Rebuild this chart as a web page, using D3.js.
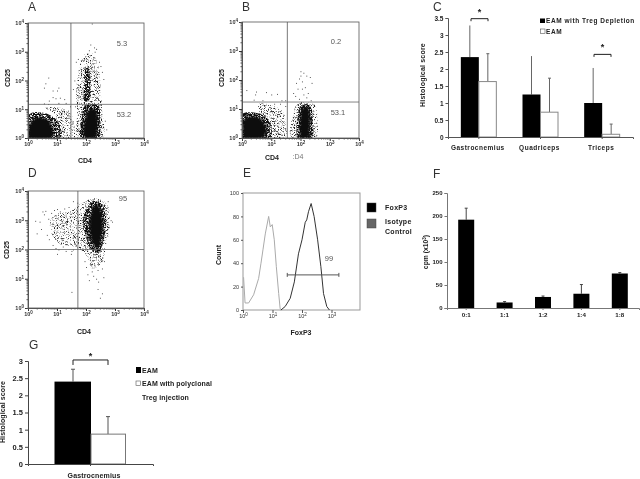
<!DOCTYPE html>
<html><head><meta charset="utf-8">
<script src="https://cdn.jsdelivr.net/npm/d3@7"></script>
<style>
html,body{margin:0;padding:0;background:#fff}
text{font-family:"Liberation Sans",Arial,sans-serif}
.b{font-weight:bold;fill:#222}
</style></head><body><svg id="c" width="640" height="479"></svg>
<script>
// Flow panels: decade exponents [log10 CD4, log10 CD25]
const aCore=[[[0,.1],[.1,.55],[.35,.72],[.6,.66],[.8,.45],[.88,.2],[.8,0],[0,0]],[[1.92,.1],[1.98,.7],[2.12,1.0],[2.32,1.0],[2.4,.7],[2.36,.1],[2.28,0],[1.98,0]]];
const aMid=[[[0,0],[0,.8],[.4,.9],[.85,.75],[1.1,.45],[1.15,.1],[1.1,0]],[[1.84,0],[1.86,.8],[1.98,1.15],[2.42,1.15],[2.48,.6],[2.45,0]],[[1.95,1.3],[1.94,1.9],[2.0,2.45],[2.1,2.45],[2.16,1.9],[2.1,1.3]]];
const aLow=[[[.9,.85],[.6,1.05],[1.1,1.05],[1.5,.8],[1.6,.3],[1.6,0],[1.1,0]],[[1.72,0],[1.7,.9],[1.66,1.5],[1.74,2.3],[1.9,2.85],[2.2,2.95],[2.45,2.4],[2.5,1.7],[2.55,1],[2.58,0]]];
const aDots=[[.55,1.75],[.6,1.9],[.7,2.1],[.85,1.65],[1.05,1.75],[1.0,1.65],[.72,1.3],[.85,1.42],[.95,1.38],[1.1,1.4],[1.25,1.35],[1.3,1.22],[1.05,1.22],[.55,1.2],[.7,1.18],[1.45,1.1],[1.38,.95],[1.4,.75],[1.5,.6],[1.2,.95],[1.3,.7],[2.28,3.15],[2.3,3.0],[2.1,3.05],[2.15,3.25],[1.65,2.65],[1.72,2.75],[2.45,2.65],[2.5,2.5],[2.55,2.3],[2.6,2.05],[2.65,.6],[2.7,.3],[2.2,3.98],[2.35,3.1],[1.58,.4],[1.62,1.1],[1.55,1.7],[1.6,2.0]];
const bCore=[[[.02,.05],[.05,.6],[.3,.75],[.62,.68],[.8,.42],[.8,.1],[.72,0],[0,0]],[[1.98,.05],[2.0,.75],[2.07,1.03],[2.25,1.05],[2.32,.7],[2.27,.05],[2.2,0],[2,0]]];
const bMid=[[[0,0],[0,.82],[.4,.88],[.8,.75],[1.0,.4],[.95,0]],[[1.92,0],[1.92,.85],[2.02,1.12],[2.33,1.12],[2.42,.6],[2.38,0]]];
const bLow=[[[0.6,.9],[.6,1.2],[.95,1.15],[1.4,.9],[1.5,.4],[1.5,0],[.9,0]],[[1.68,0],[1.78,.9],[1.9,1.2],[2.48,1.15],[2.58,.6],[2.52,0]]];
const bDots=[[.15,1.65],[.45,1.5],[.48,1.6],[.82,1.58],[1.0,1.5],[1.2,1.52],[.4,1.32],[.7,1.3],[1.35,1.3],[1.48,1.3],[.55,1.1],[1.1,1.18],[1.3,1.18],[1.48,1.1],[2.0,2.3],[1.95,2.05],[2.05,1.95],[2.2,2.15],[2.32,2.1],[1.85,1.9],[1.9,1.7],[2.05,1.7],[2.15,1.75],[2.25,1.55],[2.1,1.5],[1.82,1.45],[1.95,1.35],[2.2,1.4],[2.35,1.3],[2.38,1.9],[1.75,1.55],[2.0,2.15],[2.1,2.25]];
const dCore=[[[2.2,2.3],[2.12,2.8],[2.2,3.3],[2.35,3.58],[2.52,3.3],[2.58,2.8],[2.5,2.3],[2.37,2.02]]];
const dMid=[[[1.98,2.5],[1.88,2.9],[1.98,3.3],[2.25,3.65],[2.58,3.5],[2.7,2.9],[2.58,2.2],[2.45,1.9],[2.2,1.95]]];
const dLow=[[[.95,2.3],[.75,2.9],[.95,3.2],[1.45,3.3],[1.8,3.55],[2.3,3.75],[2.72,3.55],[2.82,2.9],[2.68,2.05],[2.55,1.55],[2.2,1.35],[2.05,1.75],[1.6,2.1],[1.2,2.15]]];
const dDots=[[.25,2.98],[.4,2.95],[.3,2.55],[.45,2.7],[.5,3.3],[.55,3.2],[.6,3.32],[.65,2.5],[.7,3.05],[.72,2.35],[.8,3.25],[.85,2.15],[.9,3.35],[.95,2.05],[1.0,3.38],[1.1,3.3],[1.05,2.0],[1.2,2.1],[1.25,3.4],[1.4,3.45],[1.5,1.95],[1.55,3.65],[1.7,3.6],[1.3,1.95],[1.55,2.0],[1.45,3.3],[1.0,1.85],[1.48,1.85],[1.5,.55],[2.2,1.25],[2.25,1.1],[2.35,1.0],[2.4,1.3],[2.05,1.15],[2.0,1.4],[2.15,1.5],[2.55,1.35],[2.1,.95],[2.4,.65],[2.42,.9],[2.55,.5],[2.6,1.05],[2.48,.35],[2.62,1.6],[2.85,3.0],[2.9,2.95],[2.75,3.65],[2.3,1.45],[2.5,1.65],[1.95,1.6]];
// Histogram E: [decade exponent, count]
const isoCurve=[[.02,28],[.07,6],[.19,6],[.36,13],[.53,27],[.61,40],[.68,52],[.755,65],[.87,80],[.925,71],[.99,73],[1.06,60],[1.13,37],[1.21,14],[1.26,1],[1.32,0]];
const foxCurve=[[1.285,0],[1.43,3],[1.6,10],[1.74,24],[1.88,48],[2.0,60],[2.11,75],[2.16,77],[2.22,84],[2.31,91],[2.41,80],[2.53,60],[2.64,37],[2.73,14],[2.84,3],[2.93,0]];
const gateE=[1.5,3.25,30];
// Bars
const cCats=["Gastrocnemius","Quadriceps","Triceps"];
const cDepl=[2.35,1.25,1.0], cDeplTop=[3.28,2.38,2.03];
const cEam=[1.63,0.73,0.08], cEamTop=[2.45,1.73,0.38];
const cTicks=[0,.5,1,1.5,2,2.5,3,3.5];
const fCats=["0:1","1:1","1:2","1:4","1:8"];
const fVals=[192,12,24,31,75], fTop=[217,14,26,51,77];
const fTicks=[0,50,100,150,200,250];
const gVals=[2.4,0.87], gTop=[2.76,1.38];
const gTicks=[0,.5,1,1.5,2,2.5,3];

const svg=d3.select("#c");
const defs=svg.append("defs");
defs.append("filter").attr("id","soft").attr("filterUnits","userSpaceOnUse").attr("x",0).attr("y",0).attr("width",640).attr("height",479)
 .append("feGaussianBlur").attr("stdDeviation",.38);
defs.append("filter").attr("id","coreBlur").attr("filterUnits","userSpaceOnUse").attr("x",0).attr("y",0).attr("width",640).attr("height",479)
 .append("feGaussianBlur").attr("stdDeviation",.9);
function speck(id,k,c,seed){
 const f=defs.append("filter").attr("id",id).attr("filterUnits","userSpaceOnUse").attr("x",0).attr("y",0).attr("width",640).attr("height",479).attr("color-interpolation-filters","sRGB");
 f.append("feTurbulence").attr("type","fractalNoise").attr("baseFrequency",1.3).attr("numOctaves",1).attr("seed",seed).attr("result","n");
 f.append("feColorMatrix").attr("in","n").attr("type","matrix").attr("values",`0 0 0 0 0 0 0 0 0 0 0 0 0 0 0 ${k} 0 0 0 ${c}`).attr("result","m");
 f.append("feComposite").attr("in","SourceGraphic").attr("in2","m").attr("operator","in");
}
speck("spMid",6,-2.25,4); speck("spLow",5,-2.5,9);
const root=svg.append("g").attr("filter","url(#soft)");

function letter(t,x,y){root.append("text").attr("x",x).attr("y",y).attr("font-size",12).attr("fill","#333").text(t);}
function lab(t,x,y,o={}){
 const e=root.append("text").attr("x",x).attr("y",y).attr("font-size",o.size||7).attr("text-anchor",o.anchor||"middle")
  .attr("class",o.plain?null:"b").attr("letter-spacing",o.ls||0);
 if(o.plain)e.attr("fill",o.fill||"#555");
 if(o.rot)e.attr("transform",`rotate(-90 ${x} ${y})`);
 e.text(t);return e;
}
function powerLabels(sel){
 sel.selectAll("text").each(function(d){
  const t=d3.select(this).text("");
  t.append("tspan").text("10");
  t.append("tspan").attr("dy",-2).attr("font-size",4.5).text(Math.round(Math.log10(d)));
 });
}
function logAxes(g,x,y){
 const minor=[];for(let e=1;e<1e4;e*=10)for(let m=2;m<10;m++)minor.push(e*m);
 const ax=g.append("g").attr("transform",`translate(0,${y.range()[0]})`).call(d3.axisBottom(x).tickValues([1,10,100,1000,1e4]).tickSize(3).tickPadding(1));
 const ay=g.append("g").attr("transform",`translate(${x.range()[0]},0)`).call(d3.axisLeft(y).tickValues([1,10,100,1000,1e4]).tickSize(3).tickPadding(1));
 [ax,ay].forEach(a=>{a.selectAll("text").attr("font-size",5.5).attr("fill","#333").attr("font-family","Liberation Sans").attr("font-weight","bold");powerLabels(a);a.selectAll("line,path").attr("stroke","#333");});
 g.append("g").attr("transform",`translate(0,${y.range()[0]})`).call(d3.axisBottom(x).tickValues(minor).tickSize(1.5).tickFormat("")).selectAll("line,path").attr("stroke","#555");
 g.append("g").attr("transform",`translate(${x.range()[0]},0)`).call(d3.axisLeft(y).tickValues(minor).tickSize(1.5).tickFormat("")).selectAll("line,path").attr("stroke","#555");
}
function flow(c){
 const x=d3.scaleLog().domain([1,1e4]).range(c.xr), y=d3.scaleLog().domain([1,1e4]).range(c.yr);
 const g=root.append("g");
 const line=d3.line().x(d=>x(10**d[0])).y(d=>y(10**d[1])).curve(d3.curveCatmullRomClosed);
 g.append("g").attr("filter","url(#spLow)").selectAll("path").data(c.low).join("path").attr("d",line).attr("fill","#222");
 g.append("g").attr("filter","url(#spMid)").selectAll("path").data(c.mid).join("path").attr("d",line).attr("fill","#111");
 g.append("g").attr("filter","url(#coreBlur)").selectAll("path").data(c.core).join("path").attr("d",line).attr("fill","#0a0a0a");
 g.append("g").selectAll("rect").data(c.dots).join("rect").attr("x",d=>x(10**d[0])).attr("y",d=>y(10**d[1])).attr("width",.9).attr("height",.9).attr("fill","#333");
 // cover blur spill outside the plot frame
 g.append("rect").attr("x",c.xr[0]-6).attr("y",c.yr[0]).attr("width",c.xr[1]-c.xr[0]+12).attr("height",5).attr("fill","#fff");
 g.append("rect").attr("x",c.xr[0]-6).attr("y",c.yr[1]).attr("width",6).attr("height",c.yr[0]-c.yr[1]+5).attr("fill","#fff");
 g.append("rect").attr("x",c.xr[0]).attr("y",c.yr[1]).attr("width",c.xr[1]-c.xr[0]).attr("height",c.yr[0]-c.yr[1]).attr("fill","none").attr("stroke","#555").attr("stroke-width",.8);
 g.append("line").attr("x1",x(c.gx)).attr("x2",x(c.gx)).attr("y1",c.yr[0]).attr("y2",c.yr[1]).attr("stroke","#555").attr("stroke-width",.8);
 g.append("line").attr("x1",c.xr[0]).attr("x2",c.xr[1]).attr("y1",y(c.gy)).attr("y2",y(c.gy)).attr("stroke","#666").attr("stroke-width",.8);
 logAxes(g,x,y);
}
flow({xr:[28,144],yr:[138,23],gx:10**1.48,gy:10**1.17,core:aCore,mid:aMid,low:aLow,dots:aDots});
flow({xr:[242,359],yr:[138,22],gx:10**1.55,gy:10**1.24,core:bCore,mid:bMid,low:bLow,dots:bDots});
flow({xr:[28,144],yr:[308,191],gx:10**1.72,gy:10**2.0,core:dCore,mid:dMid,low:dLow,dots:dDots});

// texts of flow panels
letter("A",28,11);letter("B",242,11);letter("C",433,11);letter("D",28,177);letter("E",243,177);letter("F",433,178);letter("G",29,349);
lab("CD25",10,78,{rot:1});lab("CD4",85,163);
lab("CD25",224,78,{rot:1});lab("CD4",272,160);lab(":D4",298,159,{plain:1,fill:"#777"});
lab("CD25",9,250,{rot:1});lab("CD4",84,334);
lab("5.3",122,46,{plain:1,size:7.5});lab("53.2",124,117,{plain:1,size:7.5});
lab("0.2",336,44,{plain:1,size:7.5});lab("53.1",338,115,{plain:1,size:7.5});
lab("95",123,201,{plain:1,size:7.5});lab("99",329,261,{plain:1,size:7.5});

// Panel E
{
 const x=d3.scaleLog().domain([1,1e4]).range([243,361]), y=d3.scaleLinear().domain([0,100]).range([310,193]);
 const g=root.append("g");
 const line=d3.line().x(d=>x(10**d[0])).y(d=>y(d[1]));
 g.append("rect").attr("x",243).attr("y",193).attr("width",117).attr("height",117).attr("fill","none").attr("stroke","#999").attr("stroke-width",1);
 g.append("path").attr("d",line(isoCurve)).attr("fill","none").attr("stroke","#aaa").attr("stroke-width",1);
 g.append("path").attr("d",line(foxCurve)).attr("fill","none").attr("stroke","#333").attr("stroke-width",1);
 g.append("line").attr("x1",x(10**gateE[0])).attr("x2",x(10**gateE[1])).attr("y1",y(gateE[2])).attr("y2",y(gateE[2])).attr("stroke","#555");
 gateE.slice(0,2).forEach(v=>g.append("line").attr("x1",x(10**v)).attr("x2",x(10**v)).attr("y1",y(gateE[2])-2).attr("y2",y(gateE[2])+2).attr("stroke","#555"));
 const ax=g.append("g").attr("transform","translate(0,310)").call(d3.axisBottom(x).tickValues([1,10,100,1000]).tickSize(3).tickPadding(1));
 ax.selectAll("text").attr("font-size",5.5).attr("fill","#333");powerLabels(ax);ax.selectAll("line").attr("stroke","#555");ax.select("path").remove();
 const ay=g.append("g").attr("transform","translate(243,0)").call(d3.axisLeft(y).tickValues([0,20,40,60,80,100]).tickSize(2).tickPadding(2));
 ay.selectAll("text").attr("font-size",5.5).attr("fill","#333");ay.selectAll("line").attr("stroke","#555");ay.select("path").remove();
 lab("Count",221,255,{rot:1});lab("FoxP3",301,335);
 [["#000",203],["#666",219]].forEach(d=>g.append("rect").attr("x",367).attr("y",d[1]).attr("width",9).attr("height",9).attr("fill",d[0]).attr("stroke","#444").attr("stroke-width",.5));
 lab("FoxP3",385,210,{anchor:"start",ls:.3});lab("Isotype",385,224,{anchor:"start",ls:.3});lab("Control",385,234,{anchor:"start",ls:.3});
}
function barAxes(x,y,ticks,opt){
 const g=root.append("g");
 const [x0,x1]=x.range(),[y0]=y.range();
 const ay=g.append("g").attr("transform",`translate(${x0},0)`).call(d3.axisLeft(y).tickValues(ticks).tickSize(opt.ts||2.5).tickPadding(2).tickFormat(d=>d));
 const ax=g.append("g").attr("transform",`translate(0,${y0})`).call(d3.axisBottom(x).tickSize(2).tickFormat(""));
 ay.selectAll("text").attr("font-size",opt.size||6.5).attr("font-weight","bold").attr("fill","#222").attr("font-family","Liberation Sans");
 [ax,ay].forEach(a=>a.selectAll("line,path").attr("stroke",opt.axis||"#555"));
 return g;
}
function errs(g,xs,base,top,y,stroke,cap){
 base.forEach((v,i)=>{
  g.append("line").attr("x1",xs[i]).attr("x2",xs[i]).attr("y1",y(v)).attr("y2",y(top[i])).attr("stroke",stroke);
  g.append("line").attr("x1",xs[i]-cap).attr("x2",xs[i]+cap).attr("y1",y(top[i])).attr("y2",y(top[i])).attr("stroke",stroke);
 });
}
function bracket(x1,x2,yv,y,dy,sy){
 const p=d3.path();p.moveTo(x1,y(yv)+dy);p.lineTo(x1,y(yv));p.lineTo(x2,y(yv));p.lineTo(x2,y(yv)+dy);
 root.append("path").attr("d",p.toString()).attr("fill","none").attr("stroke","#222");
 root.append("text").attr("x",(x1+x2)/2).attr("y",y(yv)-sy).attr("text-anchor","middle").attr("class","b").attr("font-size",9).text("*");
}
// Panel C
{
 const x=d3.scaleBand().domain(cCats).range([448,633]), y=d3.scaleLinear().domain([0,3.5]).range([137,18]);
 const w=18, left=c=>x(c)+x.bandwidth()/2-w;
 const g=root.append("g");
 errs(g,cCats.map(c=>left(c)+w/2),cDepl,cDeplTop,y,"#666",0);
 errs(g,cCats.map(c=>left(c)+w*1.5),cEam,cEamTop,y,"#666",1.5);
 g.selectAll(".d").data(cCats).join("rect").attr("x",left).attr("y",(c,i)=>y(cDepl[i])).attr("width",w).attr("height",(c,i)=>y(0)-y(cDepl[i])).attr("fill","#000");
 g.selectAll(".e").data(cCats).join("rect").attr("x",c=>left(c)+w).attr("y",(c,i)=>y(cEam[i])).attr("width",w-.5).attr("height",(c,i)=>y(0)-y(cEam[i])).attr("fill","#fff").attr("stroke","#888");
 barAxes(x,y,cTicks,{size:6.5});
 cCats.forEach(c=>lab(c,x(c)+x.bandwidth()/2-1,150,{size:6.5,ls:.5}));
 lab("Histological score",425,75,{rot:1,size:7,ls:.2});
 bracket(471,488,3.48,y,2.5,4);bracket(594,611,2.43,y,2.5,4);
 root.append("rect").attr("x",540).attr("y",18.5).attr("width",5).attr("height",4.5).attr("fill","#000");
 root.append("rect").attr("x",540.5).attr("y",29).attr("width",4.5).attr("height",4.5).attr("fill","#fff").attr("stroke","#555").attr("stroke-width",.6);
 lab("EAM with Treg Depletion",546,23,{anchor:"start",size:6.5,ls:.55});
 lab("EAM",546,33.5,{anchor:"start",size:6.5,ls:.55});
}
// Panel F
{
 const x=d3.scaleBand().domain(fCats).range([447,639]), y=d3.scaleLinear().domain([0,250]).range([308,193]);
 const w=16, left=c=>x(c)+x.bandwidth()/2-w/2;
 const g=root.append("g");
 errs(g,fCats.map(c=>left(c)+w/2),fVals,fTop,y,"#444",1.5);
 g.selectAll("rect").data(fCats).join("rect").attr("x",left).attr("y",(c,i)=>y(fVals[i])).attr("width",w).attr("height",(c,i)=>y(0)-y(fVals[i])).attr("fill","#000");
 barAxes(x,y,fTicks,{size:6,axis:"#777"});
 fCats.forEach(c=>lab(c,x(c)+x.bandwidth()/2,317,{size:6.2}));
 const t=lab("cpm (x10",428,252,{rot:1,size:6.8});
 t.append("tspan").attr("dy",-2).attr("font-size",4.5).text("3");
 t.append("tspan").attr("dy",2).text(")");
}
// Panel G
{
 const x=d3.scaleBand().domain(["Gastrocnemius"]).range([28,153]), y=d3.scaleLinear().domain([0,3]).range([464,361]);
 const g=root.append("g");
 const xs=[73,108];
 errs(g,xs,gVals,gTop,y,"#555",2);
 g.append("rect").attr("x",54.5).attr("y",y(gVals[0])).attr("width",36.5).attr("height",y(0)-y(gVals[0])).attr("fill","#000");
 g.append("rect").attr("x",91).attr("y",y(gVals[1])).attr("width",34.5).attr("height",y(0)-y(gVals[1])).attr("fill","#fff").attr("stroke","#777");
 barAxes(x,y,gTicks,{size:7.5,ts:3,axis:"#444"});
 bracket(73,108,3.03,y,5,1);
 lab("Gastrocnemius",94,478,{size:7,ls:.15});
 lab("Histological score",5,412,{rot:1,size:7,ls:.1});
 root.append("rect").attr("x",136).attr("y",367).attr("width",5).attr("height",6).attr("fill","#000");
 root.append("rect").attr("x",136).attr("y",381).attr("width",4.5).attr("height",4.5).attr("fill","#fff").attr("stroke","#555").attr("stroke-width",.6);
 lab("EAM",142,372.5,{anchor:"start",size:7,ls:.1});
 lab("EAM with polyclonal",142,386,{anchor:"start",size:7,ls:.1});
 lab("Treg injection",142,399.5,{anchor:"start",size:7,ls:.1});
}
</script></body></html>
